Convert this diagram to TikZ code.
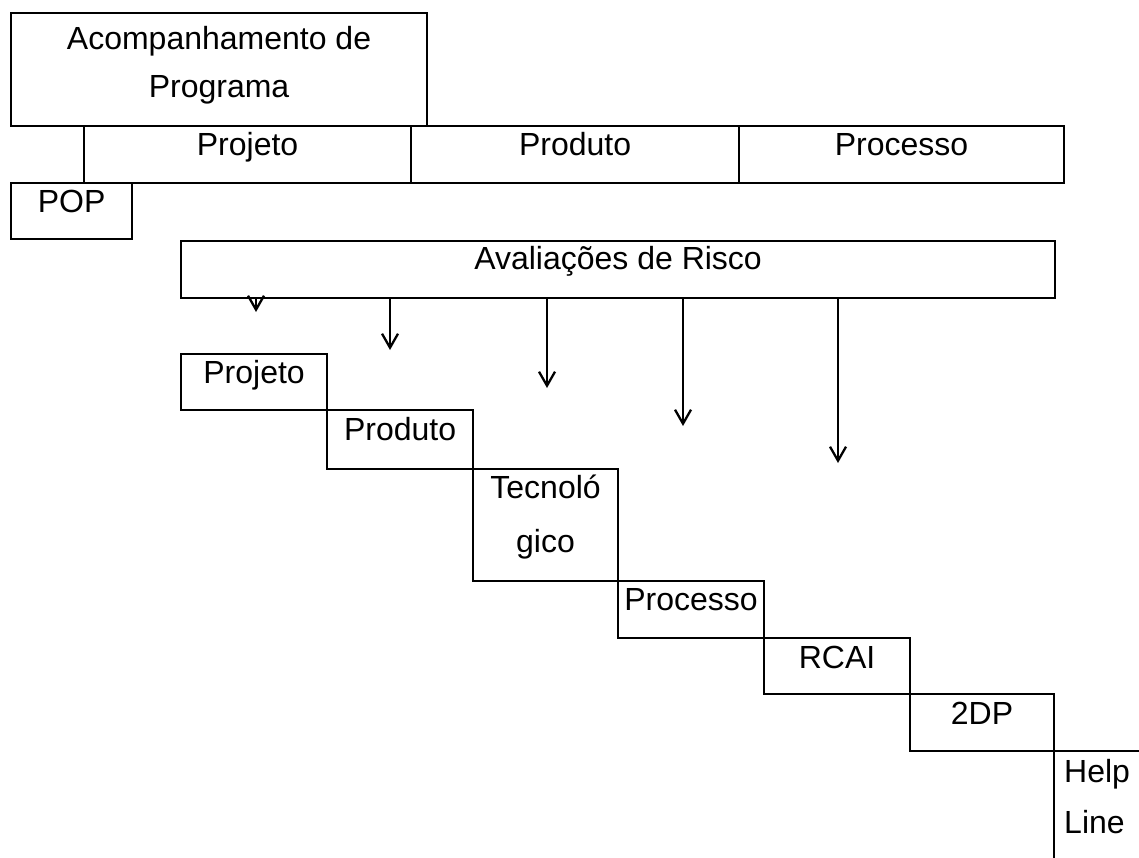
\documentclass[tikz,border=0pt]{standalone}
\usepackage{fontspec}
\setmainfont{Liberation Sans}
\usetikzlibrary{arrows.meta}
\begin{document}
\begin{tikzpicture}[x=1pt,y=-1pt,
  box/.style={draw, line width=2.1pt, rectangle, inner sep=0pt, anchor=north west},
  lbl/.style={inner sep=0pt, anchor=base, align=center, font=\fontsize{32}{48}\selectfont},
  arr/.style={line width=2.3pt, -{Straight Barb[length=14pt,width=16pt,line width=2.3pt]}}]
\useasboundingbox[fill=white] (0,0) rectangle (1139,858);
\clip (0,0) rectangle (1139,858);
% top block
\node[box, minimum width=416pt, minimum height=113pt] (acomp) at (10,12) {};
\node[box, minimum width=327pt, minimum height=57pt] (proj1) at (83,125) {};
\node[box, minimum width=328pt, minimum height=57pt] (prod1) at (410,125) {};
\node[box, minimum width=325pt, minimum height=57pt] (proc1) at (738,125) {};
\node[box, minimum width=121pt, minimum height=56pt] (pop) at (10,182) {};
\node[box, minimum width=874pt, minimum height=57pt] (aval) at (180,240) {};
% staircase
\node[box, minimum width=146pt, minimum height=56pt] (s1) at (180,353) {};
\node[box, minimum width=146pt, minimum height=59pt] (s2) at (326,409) {};
\node[box, minimum width=145pt, minimum height=112pt] (s3) at (472,468) {};
\node[box, minimum width=146pt, minimum height=57pt] (s4) at (617,580) {};
\node[box, minimum width=146pt, minimum height=56pt] (s5) at (763,637) {};
\node[box, minimum width=144pt, minimum height=57pt] (s6) at (909,693) {};
\node[box, minimum width=140pt, minimum height=160pt] (s7) at (1053,750) {};
% labels (multi-line: base = last line)
\node[lbl] at ([yshift=-86pt]acomp.north) {Acompanhamento de\\Programa};
\node[lbl] at ([yshift=-31pt]proj1.north) {Projeto};
\node[lbl] at ([yshift=-31pt]prod1.north) {Produto};
\node[lbl] at ([yshift=-31pt]proc1.north) {Processo};
\node[lbl] at ([yshift=-31pt]pop.north) {POP};
\node[lbl] at ([yshift=-30pt]aval.north) {Avaliações de Risco};
\node[lbl] at ([yshift=-30pt]s1.north) {Projeto};
\node[lbl] at ([yshift=-31pt]s2.north) {Produto};
\node[lbl, font=\fontsize{32}{54}\selectfont] at ([yshift=-84pt]s3.north) {Tecnoló\\gico};
\node[lbl] at ([yshift=-30pt]s4.north) {Processo};
\node[lbl] at ([yshift=-31pt]s5.north) {RCAI};
\node[lbl] at ([yshift=-31pt]s6.north) {2DP};
\node[lbl, anchor=base west, align=left, font=\fontsize{32}{51}\selectfont] at ([xshift=11pt,yshift=-83pt]s7.north west) {Help\\Line};
% arrows
\coordinate (a1) at (256,312);
\coordinate (a2) at (390,350);
\coordinate (a3) at (547,388);
\coordinate (a4) at (683,426);
\coordinate (a5) at (838,463);
\foreach \t in {a1,a2,a3,a4,a5} \draw[arr] (aval.south -| \t) -- (\t);
\end{tikzpicture}
\end{document}
